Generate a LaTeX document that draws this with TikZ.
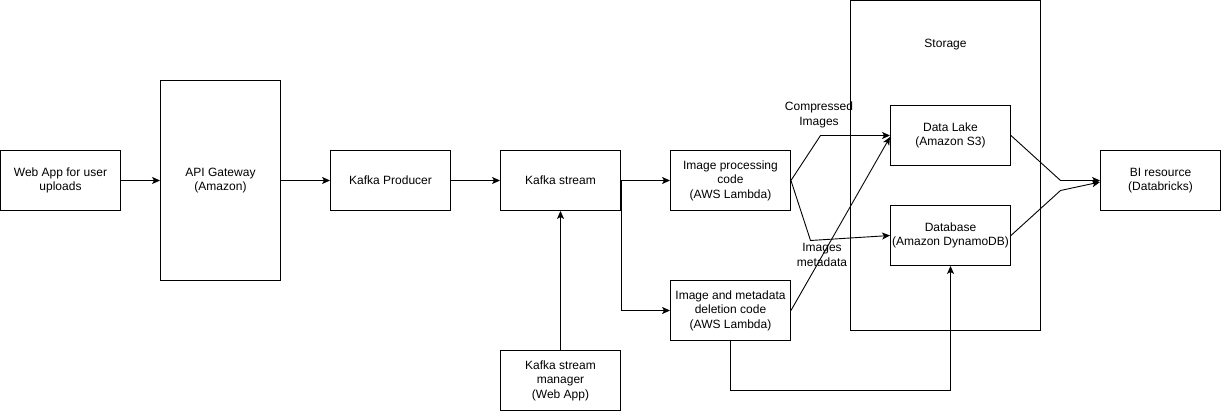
\documentclass[tikz,border=0pt]{standalone}
\usepackage{fontspec}
\setmainfont{Liberation Sans}
\usetikzlibrary{arrows.meta,calc}
\begin{document}
\begin{tikzpicture}[x=1pt,y=-1pt,
  every node/.style={font=\fontsize{12}{14.4}\selectfont, inner sep=0pt, align=center},
  box/.style={draw, line width=0.9pt, minimum width=120pt, minimum height=60pt},
  link/.style={line width=0.9pt, -{Stealth[length=8pt,width=7pt,inset=2pt]}},
  lbl/.style={font=\fontsize{12}{14.4}\selectfont}]
\useasboundingbox (0,0) rectangle (1221,411);
% container
\node[draw, line width=0.9pt, minimum width=190pt, minimum height=330pt] (storage) at (945.5,165.5) {};
\node (storlbl) at (945.5,45) {Storage};
% boxes
\node[box] (web) at (60.5,180.5) {Web App for user\\uploads};
\node[box, minimum height=200pt] (api) at (220.5,180.5) {API Gateway\\(Amazon)};
\node[box] (prod) at (390.5,180.5) {Kafka Producer};
\node[box] (stream) at (560.5,180.5) {Kafka stream};
\node[box] (imgproc) at (730.5,180.5) {Image processing\\code\\(AWS Lambda)};
\node[box] (del) at (730.5,310.5) {Image and metadata\\deletion code\\(AWS Lambda)};
\node[box] (mgr) at (560.5,380.5) {Kafka stream\\manager\\(Web App)};
\node[box] (dl) at (950.5,135.5) {Data Lake\\(Amazon S3)};
\node[box] (db) at (950.5,235.5) {Database\\(Amazon DynamoDB)};
\node[box] (bi) at (1160.5,180.5) {BI resource\\(Databricks)};
% labels
\node[lbl] (lcomp) at (819,115) {Compressed\\Images};
\node[lbl] (lmeta) at (822,255) {Images\\metadata};
% connectors
\draw[link] (web) -- (api);
\draw[link] (api.east |- prod) -- (prod);
\draw[link] (prod) -- (stream);
\draw[link] (stream) -- (imgproc);
\draw[link] (stream.east) -- (stream.east |- del) -- (del.west);
\draw[link] (mgr) -- (stream);
\draw[link] (imgproc.east) -- (820.5,135.5) -- (dl.west);
\draw[link] (imgproc.east) -- (810.5,240.5) -- (db.west);
\draw[link] (del.east) -- ($(dl.west)+(0,1.5)$);
\draw[link] (del.south) -- (730.5,390.5) -- (950.5,390.5) -- (db.south);
\draw[link] (dl.east) -- (1060.5,180.5) -- (bi.west);
\draw[link] (db.east) -- (1060.5,190.5) -- ($(bi.west)+(0,1.5)$);
\end{tikzpicture}
\end{document}
